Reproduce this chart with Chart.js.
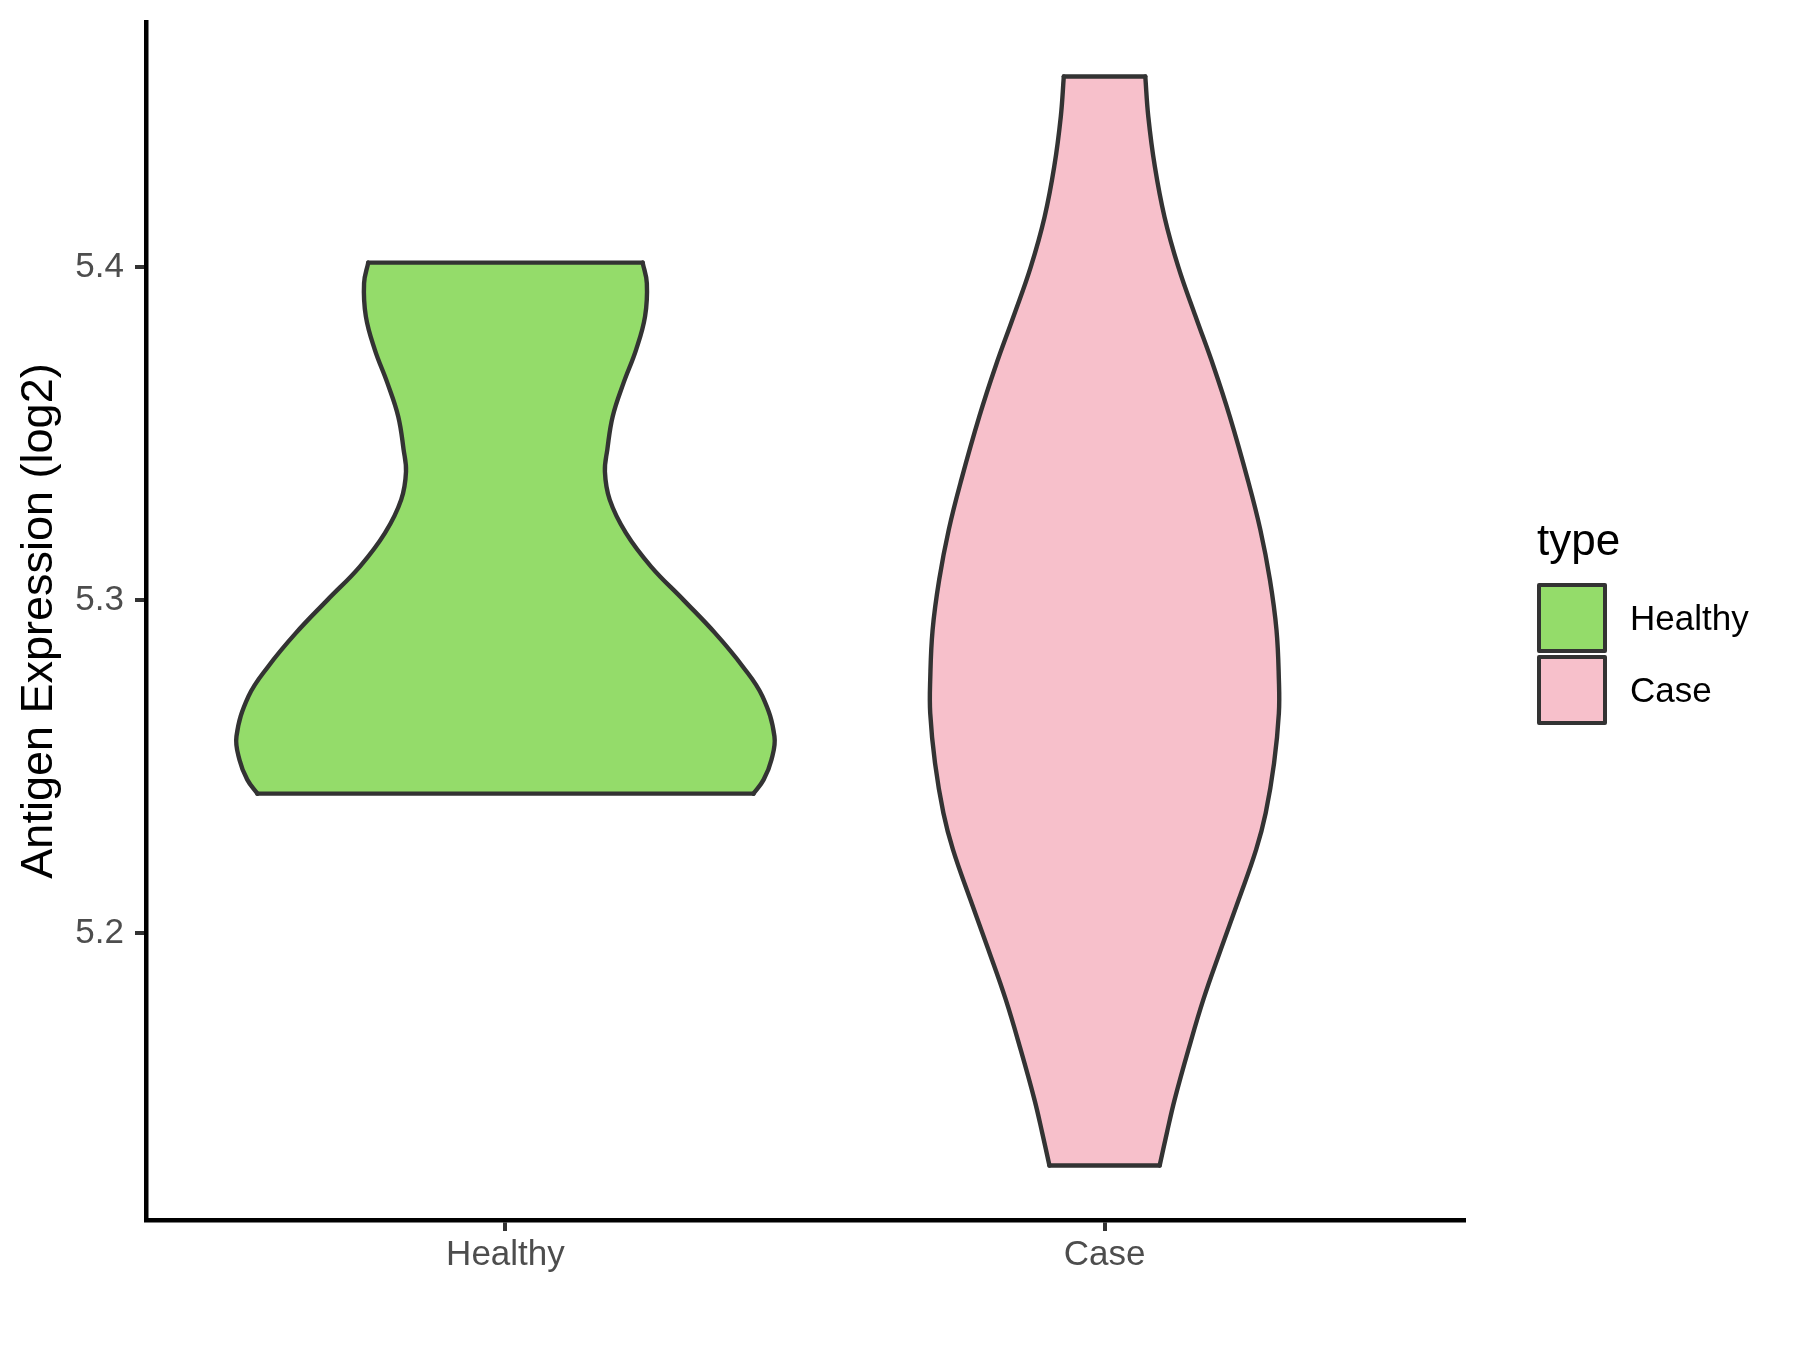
<!DOCTYPE html>
<html>
<head>
<meta charset="utf-8">
<title>Antigen Expression (log2)</title>
<script src="https://cdn.jsdelivr.net/npm/chart.js@4.4.1/dist/chart.umd.min.js"></script>
<style>
  html, body { margin: 0; padding: 0; background: #fff; }
  #wrap { position: relative; width: 1800px; height: 1350px; font-family: 'Liberation Sans', Arial, sans-serif; }
  #chart { position: absolute; left: 0; top: 0; }
  .legend-title { position: absolute; left: 1537px; top: 518px; font-size: 44px; line-height: 1; color: #000; white-space: nowrap; }
  .legend-key { position: absolute; left: 1537px; width: 70px; height: 70px; box-sizing: border-box; border: 4px solid #333333; border-radius: 2px; }
  .legend-label { position: absolute; left: 1630px; font-size: 35px; line-height: 1; color: #000; white-space: nowrap; }
</style>
</head>
<body>
<div id="wrap">
  <canvas id="chart" width="1800" height="1350"></canvas>
  <div id="legend"></div>
</div>
<script>
// categories on the x axis (positions 1, 2)
const categories = ['Healthy', 'Case'];
const legendTitle = 'type';

// violin outlines: expression value and half width (in category units)
const healthyY = [5.4014, 5.3952, 5.3852, 5.3752, 5.3652, 5.3552, 5.3452, 5.3386, 5.3302, 5.3202,
                  5.3101, 5.3001, 5.2901, 5.2801, 5.2711, 5.2591, 5.2521, 5.2461, 5.2419];
const healthyHalfWidth = [0.229, 0.236, 0.233, 0.218, 0.197, 0.179, 0.170, 0.166, 0.174, 0.201,
                          0.243, 0.297, 0.350, 0.396, 0.429, 0.449, 0.444, 0.431, 0.414];

const caseY = [5.4573, 5.4453, 5.4302, 5.4152, 5.4002, 5.3852, 5.3702, 5.3552, 5.3362, 5.3212,
               5.3062, 5.2911, 5.2761, 5.2661, 5.2511, 5.2361, 5.2251, 5.2101, 5.1951, 5.1801,
               5.1650, 5.1500, 5.1400, 5.1302];
const caseHalfWidth = [0.068, 0.073, 0.084, 0.100, 0.123, 0.152, 0.182, 0.209, 0.239, 0.260,
                       0.276, 0.287, 0.291, 0.291, 0.283, 0.269, 0.253, 0.224, 0.194, 0.165,
                       0.140, 0.117, 0.104, 0.092];

const yTicks = [5.2, 5.3, 5.4];

const fillColors = ['#94dc6a', '#f7c0cb'];
const outline = '#333333';
const fontFamily = "'Liberation Sans', Arial, sans-serif";

// ggplot-style expansion of the value axis (5% each side)
const allY = healthyY.concat(caseY);
const yLo = Math.min(...allY), yHi = Math.max(...allY);
const yPad = (yHi - yLo) * 0.05;

function violin(pos, ys, ws, color, name) {
    const base = {
        borderColor: outline,
        borderWidth: 4.4,
        borderCapStyle: 'round',
        borderJoinStyle: 'round',
        pointRadius: 0,
        pointHoverRadius: 0,
        tension: 0.4
    };
    const left = ys.map((y, i) => ({ x: pos - ws[i], y }));
    const right = ys.map((y, i) => ({ x: pos + ws[i], y }));
    const n = ys.length - 1;
    return [
        { ...base, label: name, data: left, fill: '+1', backgroundColor: color },
        { ...base, label: name + ' right', data: right, fill: false },
        { ...base, label: name + ' top', data: [{ x: left[0].x, y: ys[0] }, { x: right[0].x, y: ys[0] }],
          fill: false, tension: 0 },
        { ...base, label: name + ' bottom', data: [{ x: left[n].x, y: ys[n] }, { x: right[n].x, y: ys[n] }],
          fill: false, tension: 0 }
    ];
}

const datasets = [
    ...violin(1, healthyY, healthyHalfWidth, fillColors[0], categories[0]),
    ...violin(2, caseY, caseHalfWidth, fillColors[1], categories[1])
];

const tickGrid = {
    display: true,
    drawOnChartArea: false,
    drawTicks: true,
    tickLength: 11,
    tickWidth: 4,
    tickColor: outline,
    lineWidth: 4
};

new Chart(document.getElementById('chart').getContext('2d'), {
    type: 'line',
    data: { datasets },
    options: {
        responsive: false,
        animation: false,
        indexAxis: 'y',
        events: [],
        layout: { padding: { left: 0, top: 22, right: 336, bottom: 0 } },
        plugins: {
            legend: { display: false },
            tooltip: { enabled: false },
            filler: { drawTime: 'beforeDatasetsDraw', propagate: false }
        },
        scales: {
            x: {
                type: 'linear',
                position: 'bottom',
                min: 0.4,
                max: categories.length + 0.6,
                afterBuildTicks: (scale) => { scale.ticks = categories.map((c, i) => ({ value: i + 1 })); },
                afterFit: (scale) => { scale.height = 130; },
                grid: tickGrid,
                border: { display: true, color: '#000000', width: 4.5 },
                ticks: {
                    padding: 3,
                    color: '#4d4d4d',
                    font: { size: 35, family: fontFamily },
                    callback: (v) => categories[Math.round(v) - 1]
                }
            },
            y: {
                type: 'linear',
                position: 'left',
                min: yLo - yPad,
                max: yHi + yPad,
                afterBuildTicks: (scale) => { scale.ticks = yTicks.map(v => ({ value: v })); },
                afterFit: (scale) => {
                    scale.width = 146;
                    // tick labels sit well inside the axis, no extra room needed above/below
                    scale.paddingTop = 0;
                    scale.paddingBottom = 0;
                },
                grid: tickGrid,
                border: { display: true, color: '#000000', width: 4.5 },
                title: {
                    display: true,
                    text: 'Antigen Expression (log2)',
                    color: '#000000',
                    font: { size: 45, family: fontFamily, lineHeight: 1 },
                    padding: { top: 17, bottom: 0 }
                },
                ticks: {
                    padding: 11,
                    color: '#4d4d4d',
                    font: { size: 35, family: fontFamily },
                    callback: (v) => Number(v).toFixed(1)
                }
            }
        }
    }
});

// legend on the right, ggplot style
const legendDiv = document.getElementById('legend');
let legendHtml = `<div class="legend-title">${legendTitle}</div>`;
categories.forEach((c, i) => {
    legendHtml += `<div class="legend-key" style="top:${583 + i * 72}px; background:${fillColors[i]};"></div>`;
    legendHtml += `<div class="legend-label" style="top:${600 + i * 72}px;">${c}</div>`;
});
legendDiv.innerHTML = legendHtml;
</script>
</body>
</html>
